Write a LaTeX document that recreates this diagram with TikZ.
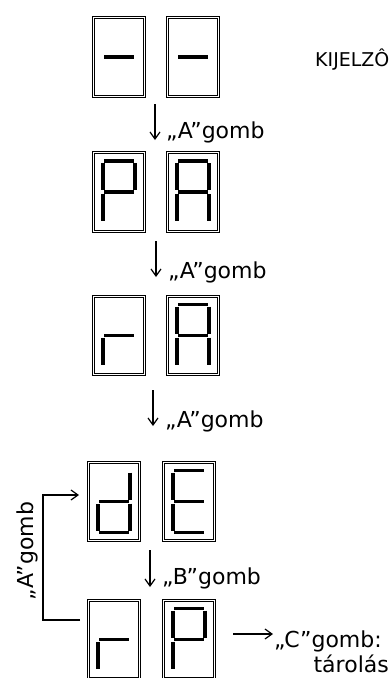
\documentclass[tikz,border=0pt]{standalone}
\usepackage{fontspec}
\setmainfont{DejaVu Sans}
\usetikzlibrary{arrows.meta,calc}

\tikzset{
  disp/.style={minimum width=54pt,minimum height=81pt,inner sep=0pt},
  frame/.style={line width=1pt},
  seg/.style={line width=3.8pt},
  arr/.style={line width=1.2pt,-{Straight Barb[length=7pt,width=10pt]}},
  lbl/.style={inner sep=0pt,font=\fontsize{22}{26}\selectfont},
}
% seven segments, relative to the centre of a display
\newcommand{\segA}{\draw[seg] (-15,-31) -- (15,-31);}
\newcommand{\segB}{\draw[seg] (16,-29) -- (16,-2);}
\newcommand{\segC}{\draw[seg] (16,2) -- (16,29);}
\newcommand{\segD}{\draw[seg] (-15,31) -- (15,31);}
\newcommand{\segE}{\draw[seg] (-16,2) -- (-16,29);}
\newcommand{\segF}{\draw[seg] (-16,-29) -- (-16,-2);}
\newcommand{\segG}{\draw[seg] (-15,0) -- (15,0);}
\newcommand{\showdigit}[2]{\begin{scope}[shift={(#1)}]#2\end{scope}}

\begin{document}
\begin{tikzpicture}[x=1pt,y=-1pt]
  \useasboundingbox (0,0) rectangle (391,678);
  \clip (0,0) rectangle (391,678);
  % displays
  \foreach \n/\x/\y in {r1l/119/57,r1r/193/57,r2l/119/192,r2r/193/192,
      r3l/119/335.5,r3r/193/335.5,r4l/114/501.5,r4r/189/501.5,
      r5l/114/639.5,r5r/189/639.5} {
    \node[disp] (\n) at (\x,\y) {};
    \draw[frame] ($(\n.north west)+(0.5,0.5)$) rectangle ($(\n.south east)+(-0.5,-0.5)$);
    \draw[frame] ($(\n.north west)+(2.3,2.3)$) rectangle ($(\n.south east)+(-2.3,-2.3)$);
  }
  \showdigit{r1l}{\segG}
  \showdigit{r1r}{\segG}
  \showdigit{r2l}{\segA\segB\segF\segE\segG}
  \showdigit{r2r}{\segA\segB\segC\segE\segF\segG}
  \showdigit{r3l}{\segE\segG}
  \showdigit{r3r}{\segA\segB\segC\segE\segF\segG}
  \showdigit{r4l}{\segB\segC\segD\segE\segG}
  \showdigit{r4r}{\segA\segD\segE\segF\segG}
  \showdigit{r5l}{\segE\segG}
  \showdigit{r5r}{\segA\segB\segF\segE\segG}

  \node[inner sep=0pt,anchor=base west,font=\fontsize{19}{22}\selectfont] (title) at (315,66.5) {KIJELZÔ};

  % steps
  \coordinate (a1s) at (155,104);   \coordinate (a1e) at (155,140);
  \coordinate (a2s) at (156,241);   \coordinate (a2e) at (156,277);
  \coordinate (a3s) at (153,390);   \coordinate (a3e) at (153,426);
  \coordinate (a4s) at (150,550);   \coordinate (a4e) at (150,587);
  \draw[arr] (a1s) -- (a1e);
  \draw[arr] (a2s) -- (a2e);
  \draw[arr] (a3s) -- (a3e);
  \draw[arr] (a4s) -- (a4e);
  \node[lbl,anchor=base west] (lbA1) at (166,138) {„A”gomb};
  \node[lbl,anchor=base west] (lbA2) at (168,278) {„A”gomb};
  \node[lbl,anchor=base west] (lbA3) at (165,427) {„A”gomb};
  \node[lbl,anchor=base west] (lbB) at (162,584) {„B”gomb};

  % back to dE
  \coordinate (lpS) at (80,620);
  \coordinate (lpE) at (79,495);
  \draw[arr] (lpS) -| (43,557) |- (lpE);
  \node[lbl,rotate=90] (lbLoop) at (27,551) {„A”gomb};

  % store
  \coordinate (cS) at (233,634);
  \coordinate (cE) at (273,634);
  \draw[arr] (cS) -- (cE);
  \node[lbl,anchor=base west] (lbC) at (274,647) {„C”gomb:};
  \node[lbl,anchor=base east] (lbT) at (389,672) {tárolás};
\end{tikzpicture}
\end{document}
